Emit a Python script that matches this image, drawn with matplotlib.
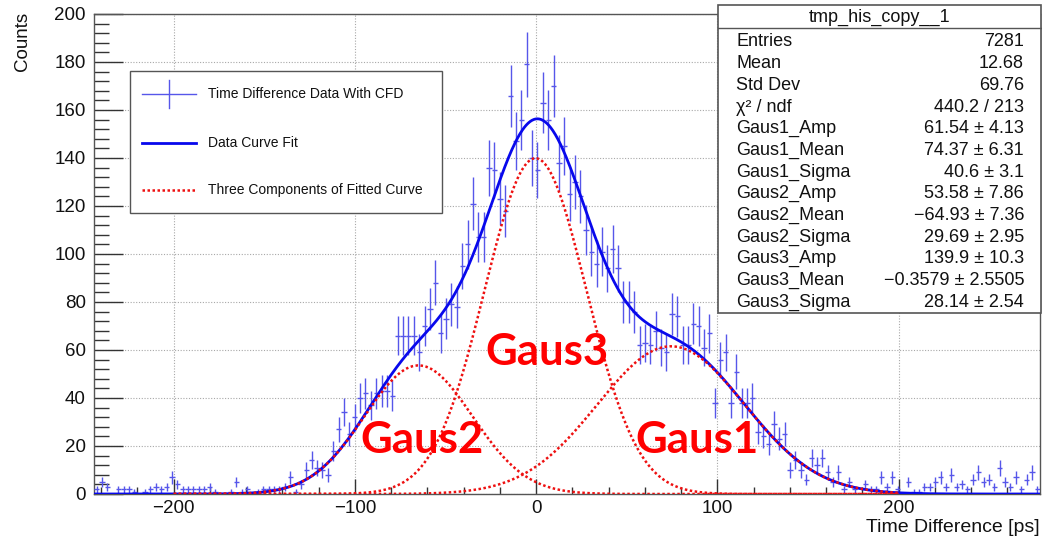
import numpy as np
import matplotlib
matplotlib.use("Agg")
import matplotlib.pyplot as plt
from matplotlib.patches import Rectangle
from matplotlib.ticker import MultipleLocator

plt.rcParams['font.family'] = ['Liberation Sans', 'DejaVu Sans']

W, H = 1042, 540

# time difference histogram, 176 equal bins
x_low, x_high = -244.0, 278.0
counts = [
    2, 5, 3, 0, 2, 2, 2, 1, 0, 1,
    2, 3, 2, 3, 7, 4, 2, 2, 2, 2,
    2, 3, 1, 0, 0, 1, 5, 1, 2, 0,
    1, 2, 2, 2, 2, 3, 7, 1, 4, 10,
    14, 11, 10, 8, 18, 27, 34, 25, 32, 40,
    42, 37, 42, 43, 43, 41, 66, 66, 66, 66,
    59, 70, 77, 88, 67, 73, 79, 78, 95, 104,
    121, 107, 107, 136, 135, 123, 118, 166, 147, 156,
    179, 140, 135, 163, 156, 170, 138, 145, 125, 130,
    124, 110, 101, 96, 101, 94, 102, 94, 80, 80,
    76, 62, 63, 62, 68, 61, 59, 75, 74, 62,
    62, 71, 70, 61, 67, 38, 56, 59, 38, 51,
    38, 38, 40, 26, 24, 21, 29, 23, 25, 10,
    14, 10, 6, 15, 12, 15, 9, 5, 9, 2,
    5, 2, 0, 4, 2, 2, 7, 3, 7, 2,
    0, 5, 1, 1, 3, 3, 5, 7, 3, 8,
    3, 4, 2, 6, 9, 5, 6, 3, 11, 5,
    3, 7, 2, 6, 9, 2,
]

# fitted gaussian components
gaus_names = ['Gaus1', 'Gaus2', 'Gaus3']
gaus_amp = [61.54, 53.58, 139.9]
gaus_mean = [74.37, -64.93, -0.3579]
gaus_sigma = [40.6, 29.69, 28.14]
comp_range = (-200, 200)

# stats box
stat_title = 'tmp_his_copy__1'
stat_labels = ['Entries', 'Mean', 'Std Dev', 'χ² / ndf',
               'Gaus1_Amp', 'Gaus1_Mean', 'Gaus1_Sigma',
               'Gaus2_Amp', 'Gaus2_Mean', 'Gaus2_Sigma',
               'Gaus3_Amp', 'Gaus3_Mean', 'Gaus3_Sigma']
stat_values = ['7281', '12.68', '69.76', '440.2 / 213',
               '61.54 ± 4.13', '74.37 ± 6.31', '40.6 ± 3.1',
               '53.58 ± 7.86', '−64.93 ± 7.36', '29.69 ± 2.95',
               '139.9 ± 10.3', '−0.3579 ± 2.5505', '28.14 ± 2.54']

legend_labels = ['Time Difference Data With CFD', 'Data Curve Fit',
                 'Three Components of Fitted Curve']

pt_color = '#5656ea'
fit_color = '#0808ec'
comp_color = '#ee1010'
comp_style = (0, (1, 1))


def gaus(x, a, m, s):
    return a * np.exp(-0.5 * ((x - m) / s) ** 2)


counts = np.array(counts, dtype=float)
edges = np.linspace(x_low, x_high, len(counts) + 1)
centers = 0.5 * (edges[1:] + edges[:-1])
half_w = 0.5 * (edges[1] - edges[0])
filled = counts > 0

fig = plt.figure(figsize=(W / 100, H / 100), dpi=100)
ax = fig.add_axes([94 / W, 1 - 494 / H, 946 / W, 480 / H])

ax.errorbar(centers[filled], counts[filled], xerr=half_w, yerr=np.sqrt(counts[filled]),
            fmt='none', ecolor=pt_color, elinewidth=1.0, capsize=0, zorder=3)

xf = np.linspace(x_low, x_high, 1500)
total = sum(gaus(xf, a, m, s) for a, m, s in zip(gaus_amp, gaus_mean, gaus_sigma))
ax.plot(xf, total, color=fit_color, lw=2.0, zorder=4)

xc = np.linspace(comp_range[0], comp_range[1], 800)
for a, m, s in zip(gaus_amp, gaus_mean, gaus_sigma):
    ax.plot(xc, gaus(xc, a, m, s), color=comp_color, lw=1.8, ls=comp_style, zorder=5)

ax.set_xlim(x_low, x_high)
ax.set_ylim(0, 200)
ax.xaxis.set_major_locator(MultipleLocator(100))
ax.xaxis.set_minor_locator(MultipleLocator(20))
ax.yaxis.set_major_locator(MultipleLocator(20))
ax.yaxis.set_minor_locator(MultipleLocator(4))
ax.set_axisbelow(True)
ax.grid(True, which='major', color='#a8a8a8', ls=(0, (1, 1.5)), lw=0.8)

ax.tick_params(axis='both', which='both', direction='in', color='#333333',
               labelsize=13.5, labelcolor='#111111')
ax.tick_params(axis='y', which='major', length=21, width=1.0, pad=6)
ax.tick_params(axis='y', which='minor', length=10.5, width=1.0)
ax.tick_params(axis='x', which='major', length=10.5, width=1.0, pad=4)
ax.tick_params(axis='x', which='minor', length=5.2, width=1.0)
for sp in ax.spines.values():
    sp.set_color('#555555')
    sp.set_linewidth(1.0)

fig.text(22 / W, 1 - 41 / H, 'Counts', rotation=90, ha='center', va='center',
         fontsize=13.5, color='#111111')
fig.text(1040 / W, 1 - 528 / H, 'Time Difference [ps]', ha='right', va='center',
         fontsize=14, color='#111111')

# overlay in pixel coordinates for legend, stats box and labels
ov = fig.add_axes([0, 0, 1, 1], zorder=10)
ov.set_xlim(0, W)
ov.set_ylim(H, 0)
ov.axis('off')

# legend
ov.add_patch(Rectangle((130, 71), 312, 142, fc='white', ec='#555555', lw=1.0))
rows = [94, 143, 190]
ov.plot([142, 196], [rows[0]] * 2, color=pt_color, lw=1.0)
ov.plot([169, 169], [rows[0] - 14, rows[0] + 14], color=pt_color, lw=1.0)
ov.plot([142, 196], [rows[1]] * 2, color=fit_color, lw=2.0)
ov.plot([142, 196], [rows[2]] * 2, color=comp_color, lw=1.8, ls=comp_style)
for y, lab in zip(rows, legend_labels):
    ov.text(208, y, lab, ha='left', va='center', fontsize=10, color='#111111')

# stats box
ov.add_patch(Rectangle((718, 5), 323, 308, fc='white', ec='#555555', lw=1.2))
ov.plot([718, 1041], [28, 28], color='#555555', lw=1.0)
ov.text(880, 17, stat_title, ha='center', va='center', fontsize=13, color='#111111')
for i, (lab, val) in enumerate(zip(stat_labels, stat_values)):
    y = 42 + 21.67 * i
    ov.text(736, y, lab, ha='left', va='center', fontsize=13, color='#111111')
    ov.text(1024, y, val, ha='right', va='center', fontsize=13, color='#111111')

# component names
for name, (px, py) in zip(gaus_names, [(697, 440), (422, 440), (547, 352)]):
    ov.text(px, py, name, ha='center', va='center', fontsize=31.5, fontweight='bold',
            color='#ff0000', family=['Lato', 'DejaVu Sans'])

fig.savefig('out.png', dpi=100)
